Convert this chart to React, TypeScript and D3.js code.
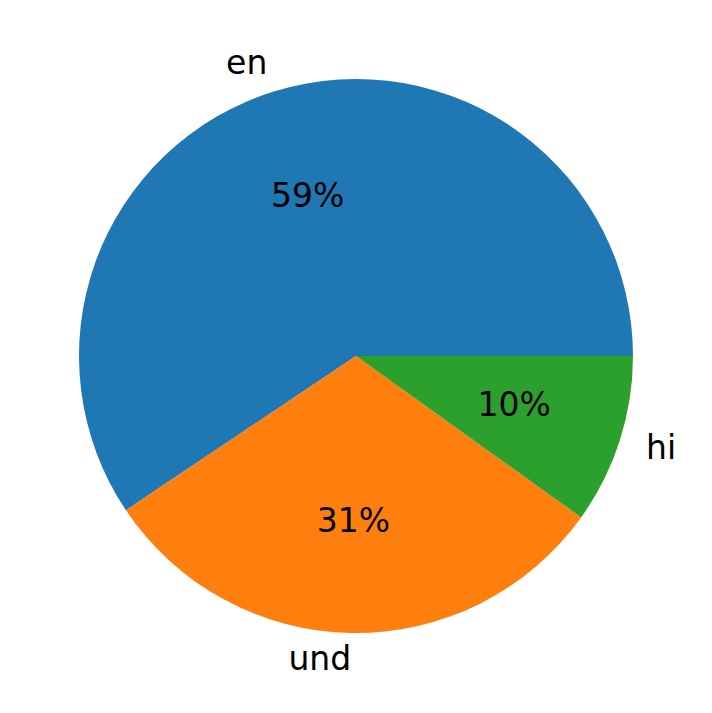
import React from "react";
import * as d3 from "d3";

const labels = ["en", "und", "hi"];
const values = [59.4, 30.7, 9.9];
const colors = ["#1f77b4", "#ff7f0e", "#2ca02c"];

export default function App() {
  const W = 712, H = 713;
  const cx = 356, cy = 356, r = 277;
  const pie = d3
    .pie<number>()
    .sort(null)
    .startAngle(Math.PI / 2)
    .endAngle(Math.PI / 2 - 2 * Math.PI);
  const arcs = pie(values);
  const arc = d3.arc<d3.PieArcDatum<number>>().innerRadius(0).outerRadius(r);
  const total = d3.sum(values);
  const fs = 33;
  const dy = -2;
  return (
    <svg
      width={W}
      height={H}
      style={{ position: "absolute", left: 0, top: 0, background: "#fff" }}
      fontFamily="DejaVu Sans"
    >
      <g transform={`translate(${cx},${cy})`}>
        {arcs.map((a, i) => (
          <path key={i} d={arc(a) || ""} fill={colors[i]} />
        ))}
        {arcs.map((a, i) => {
          const mid = (a.startAngle + a.endAngle) / 2;
          const lx = 1.1 * r * Math.sin(mid);
          const ly = -1.1 * r * Math.cos(mid);
          const px = 0.6 * r * Math.sin(mid);
          const py = -0.6 * r * Math.cos(mid);
          return (
            <g key={"t" + i}>
              <text
                x={lx}
                y={ly + dy}
                fontSize={fs}
                textAnchor={lx < 0 ? "end" : "start"}
                dominantBaseline="central"
                fill="#000"
              >
                {labels[i]}
              </text>
              <text
                x={px}
                y={py + dy}
                fontSize={fs}
                textAnchor="middle"
                dominantBaseline="central"
                fill="#000"
              >
                {`${Math.round((values[i] / total) * 100)}%`}
              </text>
            </g>
          );
        })}
      </g>
    </svg>
  );
}
